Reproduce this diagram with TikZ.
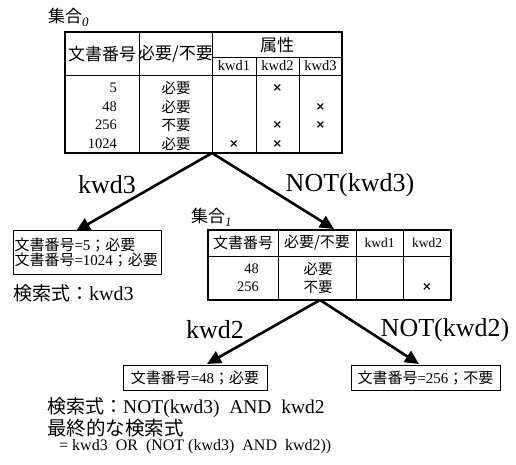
\documentclass[tikz,border=0pt]{standalone}
\usepackage{fontspec}
\setmainfont{Liberation Serif}
\newfontfamily\jp{Noto Sans CJK JP}
\newfontfamily\dv{DejaVu Sans}
\usetikzlibrary{arrows.meta}
\newcommand\fsz[1]{\fontsize{#1}{#1}\selectfont}
\newcommand\mk{{\dv\bfseries\fsz{11.5}×}}
\begin{document}
\begin{tikzpicture}[x=1pt,y=-1pt,
  outerline/.style={line width=1.6pt},
  innerline/.style={line width=0.7pt},
  arr/.style={line width=2.6pt,-{Triangle[length=14pt,width=13pt]}},
  txt/.style={inner sep=0pt},
  jph/.style={txt,font=\jp\fsz{#1}},
  lat/.style={txt,font=\fsz{#1}},
  resbox/.style={draw,line width=1pt,inner sep=1pt}]
\useasboundingbox (0,0) rectangle (516,464);

% ---- set 0 ----
\node[jph=17,anchor=west] (s0) at (48,17) {集合{\rmfamily\itshape\fsz{13}\raisebox{-4pt}{0}}};
\node[draw,outerline,minimum width=277pt,minimum height=121pt,inner sep=0pt] (tab0) at (203.5,92.5) {};
\draw[innerline] (139,32) -- (139,153) (212,32) -- (212,153)
  (256,57) -- (256,153) (299,57) -- (299,153)
  (212,57) -- (342,57) (65,75) -- (342,75);
\node[jph=17] (h01) at (102,54) {文書番号};
\node[jph=17] (h02) at (175.5,54) {必要/不要};
\node[jph=17] (h03) at (277,45) {属性};
\node[lat=14.5] (h04) at (234,66) {kwd1};
\node[lat=14.5] (h05) at (277.5,66) {kwd2};
\node[lat=14.5] (h06) at (320.5,66) {kwd3};
\foreach \n/\y/\v in {r1/88/5, r2/107/48, r3/125/256, r4/144/1024}
  \node[lat=14.5,anchor=east] (\n) at (117,\y) {\v};
\foreach \n/\y/\v in {n1/88/必要, n2/107/必要, n3/125/不要, n4/144/必要}
  \node[jph=14.5] (\n) at (176,\y) {\v};
\node[txt] (x1) at (277.5,88) {\mk};
\node[txt] (x2) at (320.5,107) {\mk};
\node[txt] (x3) at (277.5,125) {\mk};
\node[txt] (x4) at (320.5,125) {\mk};
\node[txt] (x5) at (234,144) {\mk};
\node[txt] (x6) at (277.5,144) {\mk};

% ---- branches from set 0 ----
\coordinate (a0) at (212,153);
\coordinate (tipL) at (76,231);
\coordinate (tipR) at (334,229);
\draw[arr] (a0) -- (tipL);
\draw[arr] (a0) -- (tipR);
\node[lat=26] (l1) at (107,185) {kwd3};
\node[lat=26] (l2) at (350,185) {NOT(kwd3)};

% ---- left result ----
\node[resbox,anchor=north west,text width=146pt,minimum height=44pt,align=left,font=\fsz{15}] (resL) at (13,230)
  {\fontsize{15}{17}\selectfont{\jp 文書番号}=5{\jp ；必要}\\{\jp 文書番号}=1024{\jp ；必要}};
\node[txt,anchor=west,font=\fsz{20}] (q1) at (13,293) {{\jp\fsz{19}検索式：}kwd3};

% ---- set 1 ----
\node[jph=17,anchor=west] (s1) at (191,217) {集合{\rmfamily\itshape\fsz{13}\raisebox{-4pt}{1}}};
\node[draw,outerline,minimum width=243pt,minimum height=70pt,inner sep=0pt] (tab1) at (329.5,265) {};
\draw[innerline] (278,230) -- (278,300) (356,230) -- (356,300) (403,230) -- (403,300)
  (208,256) -- (451,256);
\node[jph=15] (g01) at (243,243) {文書番号};
\node[jph=15] (g02) at (317,243) {必要/不要};
\node[lat=13.5] (g03) at (379.5,243) {kwd1};
\node[lat=13.5] (g04) at (427,243) {kwd2};
\node[lat=14.5,anchor=east] (m1) at (259,269) {48};
\node[lat=14.5,anchor=east] (m2) at (259,287) {256};
\node[jph=14.5] (p1) at (318,269) {必要};
\node[jph=14.5] (p2) at (318,287) {不要};
\node[txt] (y1) at (427,287) {\mk};

% ---- branches from set 1 ----
\coordinate (a1) at (320,300);
\coordinate (tipM) at (207,364);
\coordinate (tipN) at (419,364);
\draw[arr] (a1) -- (tipM);
\draw[arr] (a1) -- (tipN);
\node[lat=26] (l3) at (215,330) {kwd2};
\node[lat=26] (l4) at (445,330) {NOT(kwd2)};

\node[resbox,minimum width=144pt,minimum height=25pt,font=\fsz{15}] (resM) at (195,377.5)
  {{\jp 文書番号}=48{\jp ；必要}};
\node[resbox,minimum width=149pt,minimum height=25pt,font=\fsz{15}] (resN) at (425.5,377.5)
  {{\jp 文書番号}=256{\jp ；不要}};

% ---- bottom text ----
\node[txt,anchor=west,font=\fsz{19.5}] (q2) at (47,408)
  {{\jp\fsz{19}検索式：}NOT(kwd3)\ \ AND\ \ kwd2};
\node[jph=19.5,anchor=west] (q3) at (47,428) {最終的な検索式};
\node[txt,anchor=west,font=\fsz{16}] (q4) at (59,447)
  {= kwd3\ \ OR\ \ (NOT (kwd3)\ \ AND\ \ kwd2))};
\end{tikzpicture}
\end{document}
